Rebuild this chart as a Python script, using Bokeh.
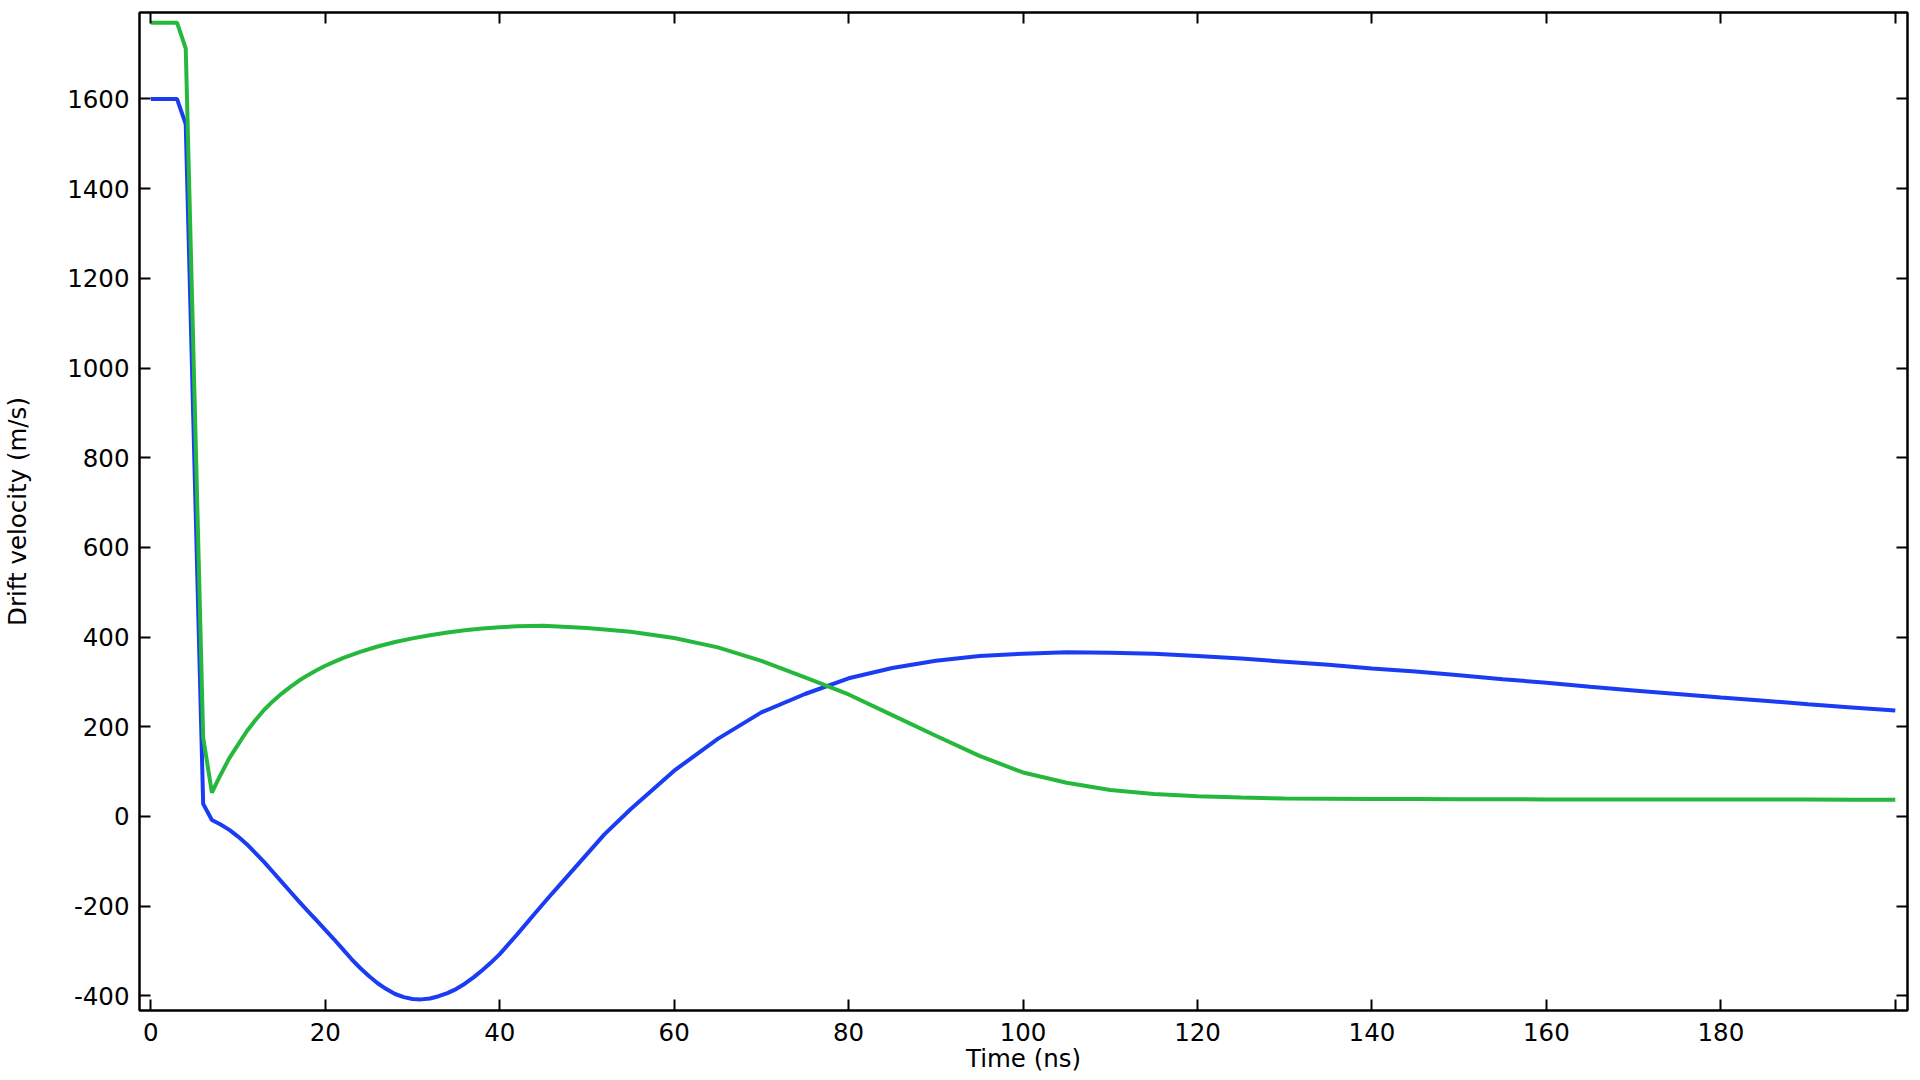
from bokeh.plotting import figure
from bokeh.models import Range1d, LinearAxis, FixedTicker, CustomJSTickFormatter
from bokeh.embed import file_html
from bokeh.resources import INLINE

# ---- data ----
time_ns = [0, 1, 2, 3, 4, 6, 7, 8, 9, 10, 11, 12, 13, 14, 15, 16, 17, 18, 19, 20,
           22, 24, 26, 28, 30, 32, 34, 36, 38, 40, 42, 45, 50, 55, 60, 65, 70, 75,
           80, 85, 90, 95, 100, 105, 110, 115, 120, 125, 130, 135, 140, 145, 150,
           155, 160, 165, 170, 175, 180, 185, 190, 195, 200]

blue_time = [0, 1, 2, 3, 4, 6, 7, 8, 9, 10, 11, 12, 13, 14, 15, 16, 17, 18, 19, 20,
             21, 22, 23, 24, 25, 26, 27, 28, 29, 30, 31, 32, 33, 34, 35, 36, 37, 38,
             39, 40, 42, 44, 46, 48, 50, 52, 55, 60, 65, 70, 75, 80, 85, 90, 95, 100,
             105, 110, 115, 120, 125, 130, 135, 140, 145, 150, 155, 160, 165, 170,
             175, 180, 185, 190, 195, 200]
blue_velocity = [1600, 1600, 1600, 1600, 1544, 28, -8, -18, -30, -45, -62, -82, -102,
                 -124, -146, -168, -190, -211, -232, -253, -274, -296, -318, -338,
                 -356, -372, -385, -396, -403, -407, -408, -406, -401, -394, -385,
                 -373, -359, -343, -326, -307, -263, -217, -172, -128, -84, -40, 16,
                 102, 173, 232, 273, 308, 331, 347, 358, 363, 366, 365, 363, 358, 352,
                 345, 338, 330, 323, 315, 306, 298, 289, 281, 273, 265, 258, 250, 243,
                 236]

green_velocity = [1770, 1770, 1770, 1770, 1713, 176, 53, 93, 130, 160, 190, 215, 238,
                  257, 274, 289, 303, 315, 326, 336, 353, 367, 379, 389, 397, 404, 410,
                  415, 419, 422, 424, 425, 420, 412, 398, 377, 347, 310, 272, 226, 180,
                  135, 98, 75, 59, 50, 45, 42, 40, 39.5, 39, 38.8, 38.5, 38.3, 38, 38,
                  38, 37.8, 37.5, 37.5, 37.5, 37.3, 37]

x_ticks = [0, 20, 40, 60, 80, 100, 120, 140, 160, 180, 200]
y_ticks = [-400, -200, 0, 200, 400, 600, 800, 1000, 1200, 1400, 1600]

x_label = "Time (ns)"
y_label = "Drift velocity (m/s)"

BLUE = "#1a3cf2"
GREEN = "#26b83c"
FONT = "DejaVu Sans"
FS = "24.5px"

p = figure(
    output_backend="svg", toolbar_location=None,
    frame_width=1768, frame_height=998,
    min_border_left=139, min_border_top=12, min_border_right=10, min_border_bottom=58,
    x_range=Range1d(-1.3, 201.4), y_range=Range1d(-432.8, 1792.8),
    background_fill_color="white", border_fill_color="white",
)
p.outline_line_color = "black"
p.outline_line_width = 2
p.xgrid.visible = False
p.ygrid.visible = False

def style_axis(ax, ticks, labels=True):
    ax.ticker = FixedTicker(ticks=ticks)
    ax.axis_line_color = "black"
    ax.axis_line_width = 2
    ax.major_tick_line_color = "black"
    ax.major_tick_line_width = 2
    ax.major_tick_in = 11
    ax.major_tick_out = 0
    ax.minor_tick_line_color = None
    ax.major_label_text_font = FONT
    ax.major_label_text_font_size = FS
    ax.major_label_text_color = "black"
    ax.axis_label_text_font = FONT
    ax.axis_label_text_font_size = FS
    ax.axis_label_text_font_style = "normal"
    ax.axis_label_text_color = "black"
    if labels:
        ax.formatter = CustomJSTickFormatter(code="return String(tick);")
    else:
        ax.formatter = CustomJSTickFormatter(code="return '';")
        ax.major_label_text_font_size = "0px"
        ax.major_label_standoff = 0

xa = p.xaxis[0]
style_axis(xa, x_ticks)
xa.axis_label = x_label
xa.major_label_standoff = 12
xa.axis_label_standoff = 0
xa.major_label_overrides = {200: ""}

ya = p.yaxis[0]
style_axis(ya, y_ticks)
ya.axis_label = y_label
ya.major_label_standoff = 10
ya.axis_label_standoff = 32

top = LinearAxis()
style_axis(top, x_ticks, labels=False)
p.add_layout(top, "above")
right = LinearAxis()
style_axis(right, y_ticks, labels=False)
p.add_layout(right, "right")

p.line(blue_time, blue_velocity, line_color=BLUE, line_width=4)
p.line(time_ns, green_velocity, line_color=GREEN, line_width=4)

open("out.html", "w").write(file_html(p, INLINE))
